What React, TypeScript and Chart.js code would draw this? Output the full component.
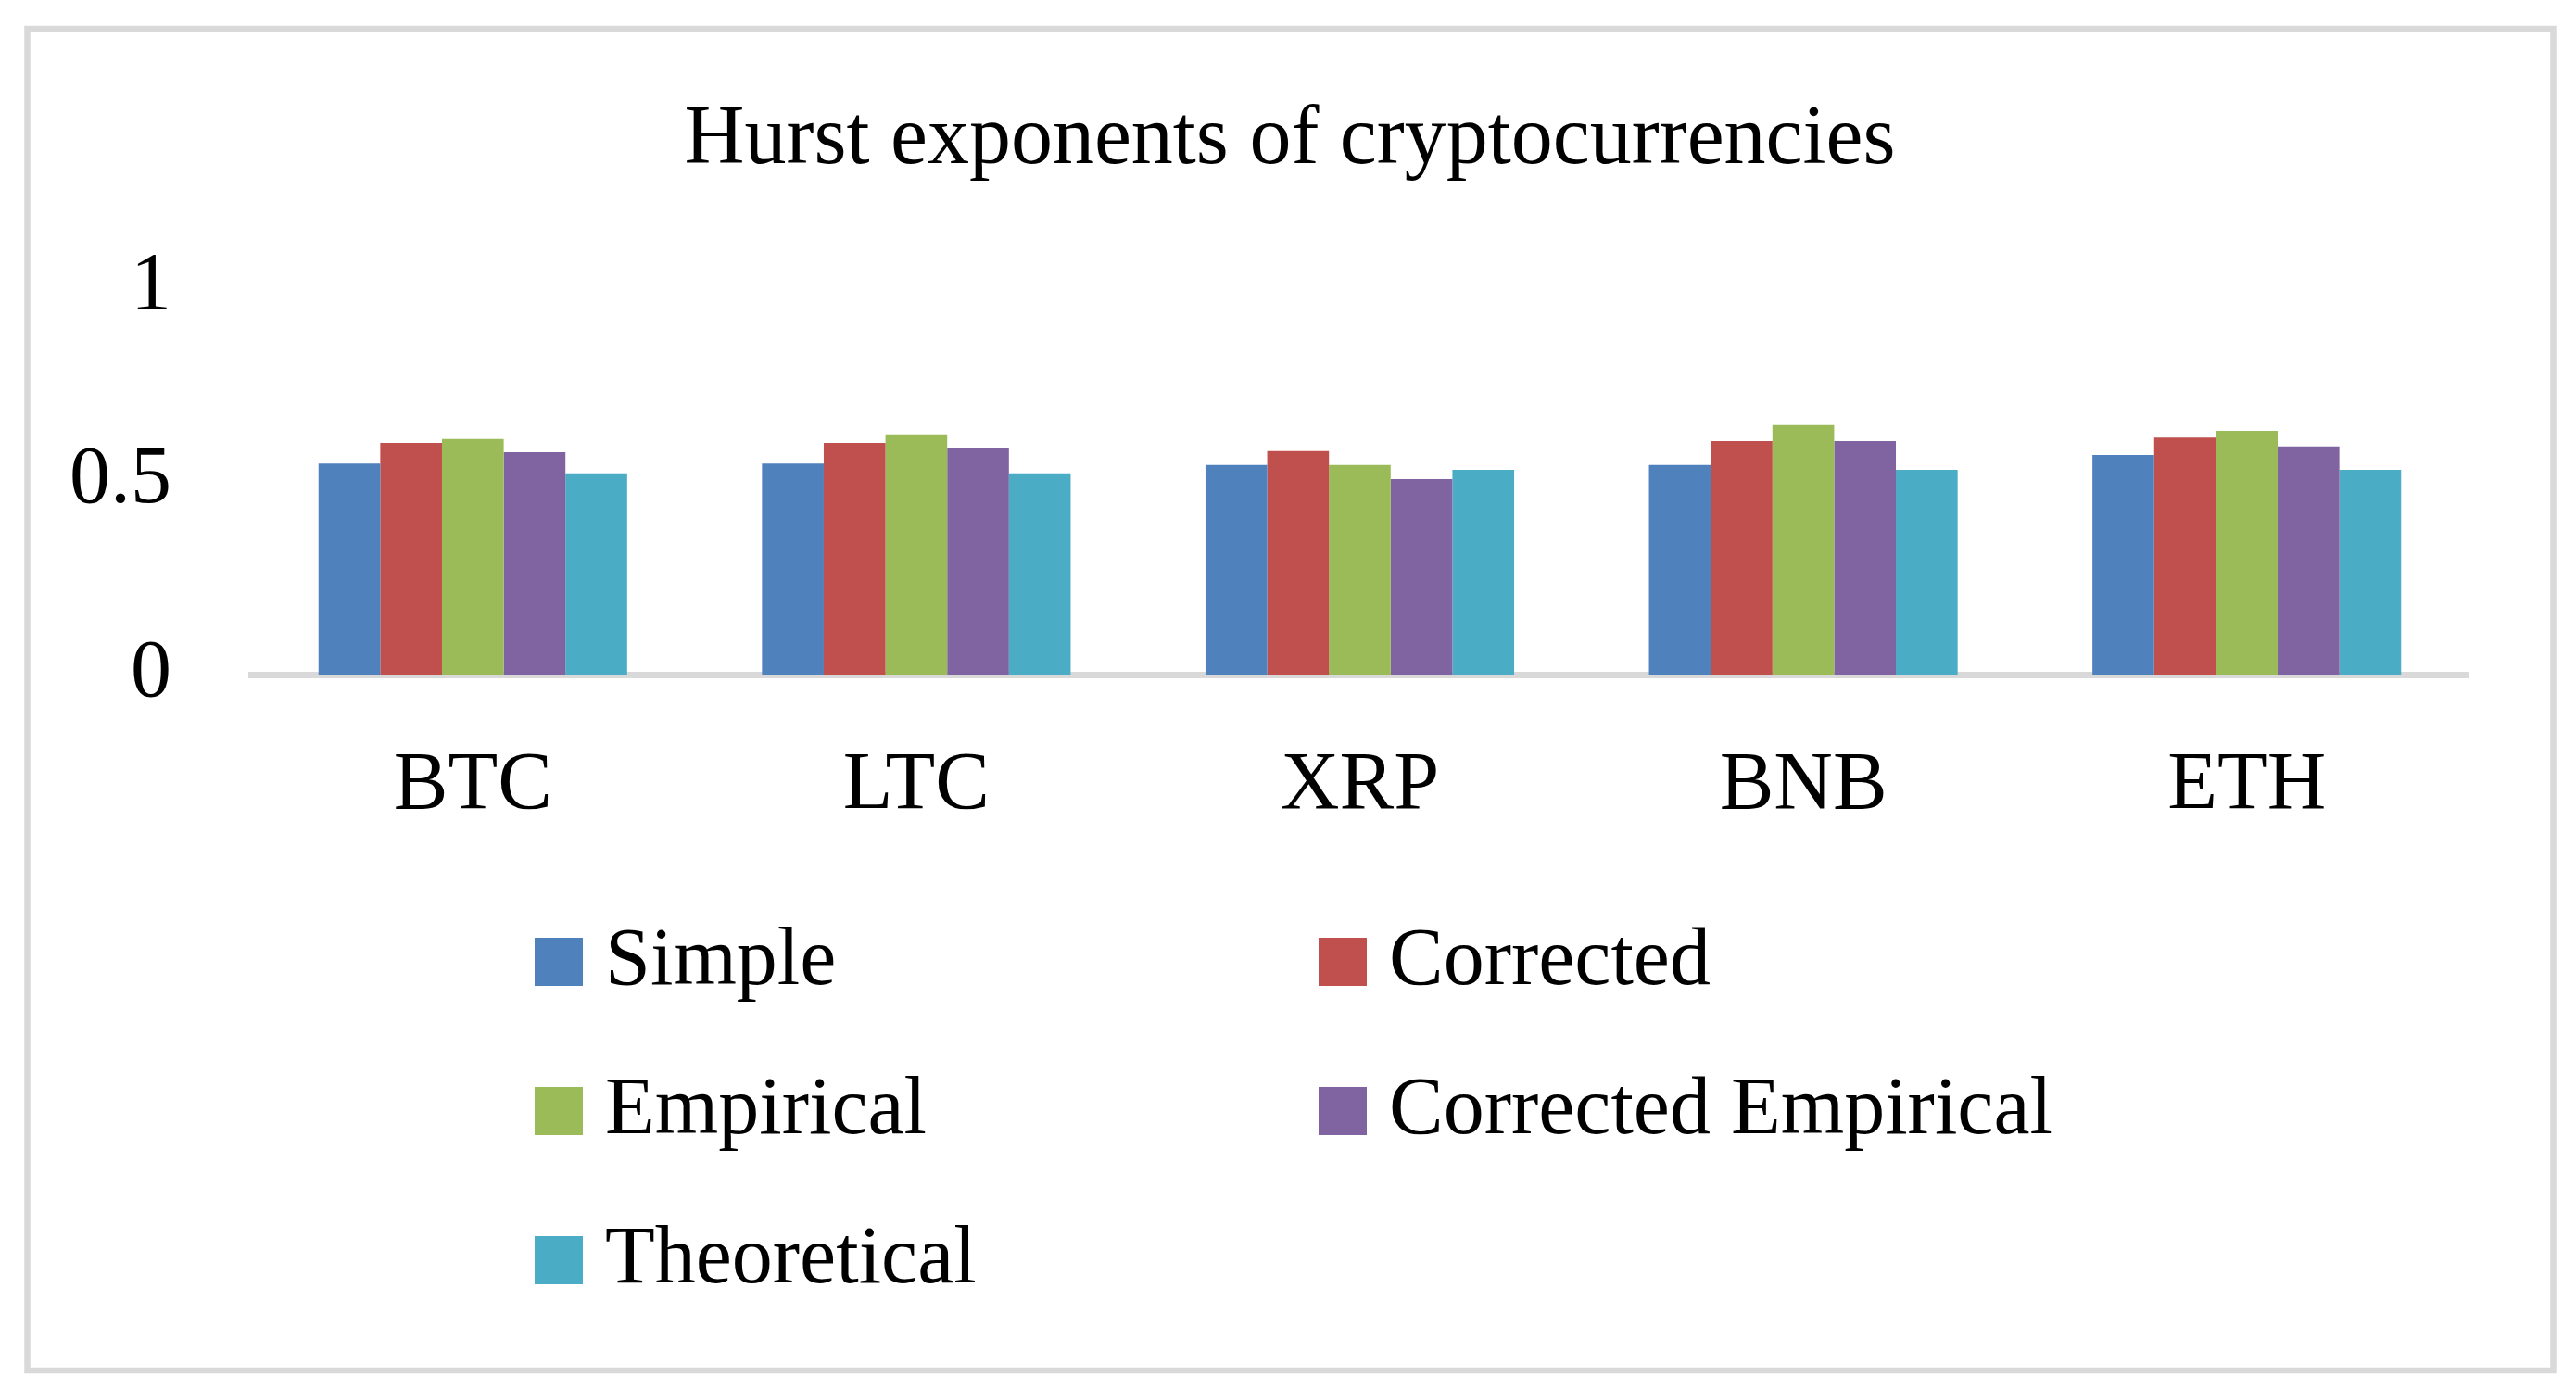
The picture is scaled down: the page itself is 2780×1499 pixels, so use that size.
import React, { useEffect, useRef } from "react";
import { Chart, registerables } from "chart.js";

Chart.register(...registerables);

const categories = ["BTC", "LTC", "XRP", "BNB", "ETH"];
const seriesNames = ["Simple", "Corrected", "Empirical", "Corrected Empirical", "Theoretical"];
const simple = [0.545, 0.545, 0.541, 0.541, 0.567];
const corrected = [0.598, 0.598, 0.577, 0.603, 0.612];
const empirical = [0.608, 0.62, 0.541, 0.644, 0.629];
const correctedEmpirical = [0.574, 0.586, 0.505, 0.603, 0.589];
const theoretical = [0.52, 0.52, 0.529, 0.529, 0.529];
const yTicks = [0, 0.5, 1];
const yTickLabels = ["0", "0.5", "1"];
const titleText = "Hurst exponents of cryptocurrencies";

const colors = ["#4F81BD", "#C0504D", "#9BBB59", "#8064A2", "#4BACC6"];
const FONT = "'Liberation Serif', 'Times New Roman', serif";

const frameTitleLegend = {
  id: "frameTitleLegend",
  beforeDraw(chart: any) {
    const ctx = chart.ctx;
    ctx.save();
    ctx.fillStyle = "#ffffff";
    ctx.fillRect(0, 0, chart.width, chart.height);
    ctx.strokeStyle = "#d9d9d9";
    ctx.lineWidth = 6.5;
    ctx.strokeRect(29.5, 31, 2726, 1448);
    ctx.restore();
  },
  afterDraw(chart: any) {
    const ctx = chart.ctx;
    ctx.save();
    // title
    ctx.font = `90px ${FONT}`;
    ctx.fillStyle = "#000000";
    ctx.textAlign = "center";
    ctx.textBaseline = "middle";
    ctx.fillText(titleText, 1392, 152);
    // legend (2 columns)
    const colX = [577, 1423];
    const rowY = [1012, 1173, 1334];
    const sw = 52;
    ctx.font = `88px ${FONT}`;
    ctx.textBaseline = "alphabetic";
    ctx.textAlign = "left";
    chart.data.datasets.forEach((ds: any, i: number) => {
      const x = colX[i % 2];
      const y = rowY[Math.floor(i / 2)];
      ctx.fillStyle = ds.backgroundColor;
      ctx.fillRect(x, y, sw, sw);
      ctx.fillStyle = "#000000";
      ctx.fillText(ds.label, x + 76, y + 50);
    });
    ctx.restore();
  },
};

export default function App() {
  const ref = useRef<HTMLCanvasElement>(null);

  useEffect(() => {
    if (!ref.current) return;
    const seriesData = [simple, corrected, empirical, correctedEmpirical, theoretical];
    const chart = new Chart(ref.current, {
      type: "bar",
      data: {
        labels: categories,
        datasets: seriesData.map((d, i) => ({
          label: seriesNames[i],
          data: d,
          backgroundColor: colors[i],
          borderWidth: 0,
          categoryPercentage: 0.696,
          barPercentage: 1.0,
        })),
      },
      plugins: [frameTitleLegend],
      options: {
        animation: false,
        responsive: false,
        maintainAspectRatio: false,
        devicePixelRatio: 1,
        layout: { padding: { left: 0, right: 116, top: 310, bottom: 571 } },
        plugins: {
          legend: { display: false },
          tooltip: { enabled: false },
          title: { display: false },
        },
        scales: {
          x: {
            grid: { display: false, drawTicks: false },
            border: { display: true, color: "#d9d9d9", width: 7 },
            ticks: {
              color: "#000000",
              font: { family: FONT, size: 88 },
              padding: 68,
              maxRotation: 0,
              autoSkip: false,
            },
            afterFit(scale: any) {
              scale.height = 200;
            },
          },
          y: {
            min: 0,
            max: 1,
            grid: { display: false, drawTicks: false },
            border: { display: false },
            ticks: {
              color: "#000000",
              font: { family: FONT, size: 88 },
              padding: 86,
              stepSize: 0.5,
              callback: (value: any) => {
                const idx = yTicks.indexOf(Number(value));
                return idx >= 0 ? yTickLabels[idx] : String(value);
              },
            },
            afterBuildTicks(scale: any) {
              scale.ticks = yTicks.map((v) => ({ value: v }));
            },
            afterFit(scale: any) {
              scale.width = 271;
            },
          },
        },
      },
    });
    return () => chart.destroy();
  }, []);

  return (
    <div style={{ position: "fixed", left: 0, top: 0, width: 2780, height: 1499, background: "#fff" }}>
      <canvas ref={ref} width={2780} height={1499} style={{ width: 2780, height: 1499, display: "block" }} />
    </div>
  );
}
